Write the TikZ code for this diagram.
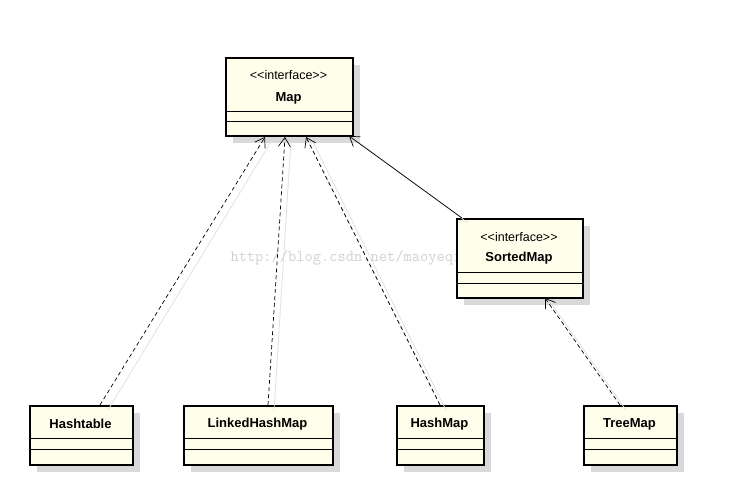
\documentclass[tikz,border=0pt]{standalone}
\usepackage{fontspec}
\setmainfont{Liberation Sans}
\usetikzlibrary{arrows.meta}
\begin{document}
\begin{tikzpicture}[x=1pt,y=-1pt,
  cls/.style={draw=black,line width=2pt,fill=yellow!8,inner sep=0pt},
  shad/.style={fill=black!15,draw=none},
  real/.style={-{Straight Barb[open,length=9pt,width=12pt]},line width=0.7pt},
  rdash/.style={real,dash pattern=on 4pt off 3pt},
  ghost/.style={draw=black!12,line width=0.8pt},
  lbl/.style={font=\fontsize{12.5}{14}\selectfont},
  nm/.style={font=\bfseries\fontsize{13}{15}\selectfont}]
\useasboundingbox (0,0) rectangle (731,495);
\newcommand{\clsbox}[9]{% name,x1,y1,x2,y2,line1,line2,textY,text
  \fill[shad] (#2+8,#3+8) rectangle (#4+8,#5+8);
  \node[cls,minimum width={#4-#2},minimum height={#5-#3},anchor=north west] (#1) at (#2,#3) {};
  \draw[line width=0.5pt] (#2,#6) -- (#4,#6) (#2,#7) -- (#4,#7);
  \node[nm] (#1t) at ({(#2+#4)/2},#8) {#9};}
\node[text=black!18,font=\ttfamily\fontsize{16}{18}\selectfont] (wm) at (350,258) {http://blog.csdn.net/maoyeqiu};
\clsbox{map}{225}{57}{352}{135}{111}{121}{98}{Map}
\node[lbl] (mapst) at (288.5,75) {{<}{<}interface{>}{>}};
\clsbox{smap}{456}{218}{582}{297}{272}{283}{258}{SortedMap}
\node[lbl] (smapst) at (519,237) {{<}{<}interface{>}{>}};
\clsbox{ht}{29}{405}{132}{464}{438}{449}{424}{Hashtable}
\clsbox{lhm}{183}{405}{332}{464}{438}{449}{424}{LinkedHashMap}
\clsbox{hm}{396}{405}{483}{464}{438}{449}{424}{HashMap}
\clsbox{tm}{583}{405}{676}{464}{438}{449}{424}{TreeMap}
\draw[ghost] (108,410) -- (272,140);
\draw[ghost] (274,410) -- (291,140);
\draw[ghost] (446,410) -- (312,140);
\draw[ghost] (468,223) -- (356,140);
\draw[ghost] (626,410) -- (551,303);
\coordinate (c1) at (265,137); \coordinate (c2) at (285,137);
\coordinate (c3) at (306,137); \coordinate (c4) at (349,136);
\coordinate (c5) at (545,298);
\coordinate (h1) at (100,405); \coordinate (h2) at (268,405);
\coordinate (h3) at (440,405); \coordinate (h4) at (462,218);
\coordinate (h5) at (620,405);
\draw[rdash] (h1) -- (c1);
\draw[rdash] (h2) -- (c2);
\draw[rdash] (h3) -- (c3);
\draw[real] (h4) -- (c4);
\draw[rdash] (h5) -- (c5);
\end{tikzpicture}
\end{document}
